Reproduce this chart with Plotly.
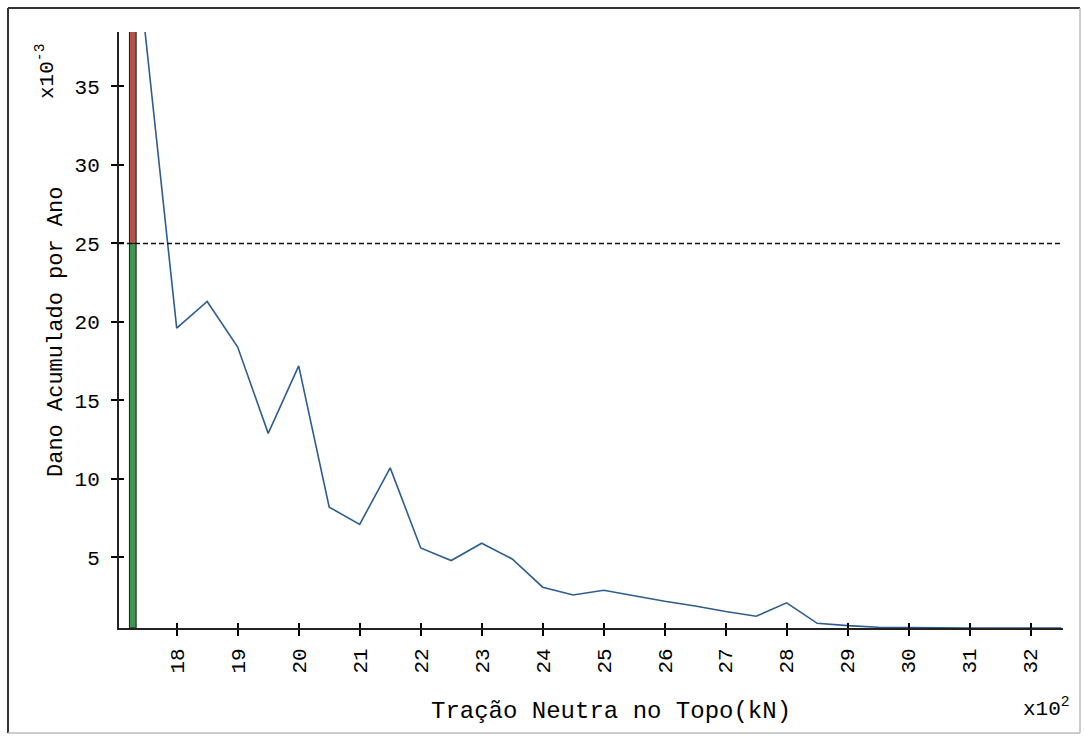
import plotly.graph_objects as go

# Cumulative fatigue damage per year versus top neutral tension
tracao = [17.0, 18.0, 18.5, 19.0, 19.5, 20.0, 20.5, 21.0, 21.5, 22.0, 22.5,
          23.0, 23.5, 24.0, 24.5, 25.0, 25.5, 26.0, 26.5, 27.0, 27.5, 28.0,
          28.5, 29.0, 29.5, 30.0, 30.5, 31.0, 31.5, 32.0, 32.5]
dano = [56.0, 19.6, 21.3, 18.4, 12.9, 17.2, 8.2, 7.1, 10.7, 5.6, 4.8,
        5.9, 4.9, 3.1, 2.6, 2.9, 2.55, 2.2, 1.9, 1.55, 1.25, 2.1,
        0.8, 0.65, 0.55, 0.52, 0.51, 0.5, 0.5, 0.5, 0.5]

limite_dano = 25.0          # allowed damage per year (x10^-3)
tracao_atual = 17.28        # current top tension (x10^2 kN)
dano_atual = 38.5           # damage indicator height

x_ticks = list(range(18, 33))
y_ticks = [5, 10, 15, 20, 25, 30, 35]

X_RANGE = [17.054, 32.53]
Y_RANGE = [0.5, 38.47]

FONT = "Liberation Mono"
INK = "#000000"

fig = go.Figure()

# indicator bar: green up to the limit, red above it
fig.add_trace(go.Bar(
    x=[tracao_atual], y=[limite_dano - Y_RANGE[0]], base=[Y_RANGE[0]],
    width=0.11, marker=dict(color="#3f9650", line=dict(color="#1a1a1a", width=1)),
    showlegend=False, hoverinfo="skip"))
fig.add_trace(go.Bar(
    x=[tracao_atual], y=[dano_atual - limite_dano + 1], base=[limite_dano],
    width=0.11, marker=dict(color="#b0544c", line=dict(color="#1a1a1a", width=1)),
    showlegend=False, hoverinfo="skip"))

# damage curve
fig.add_trace(go.Scatter(
    x=tracao, y=dano, mode="lines",
    line=dict(color="#2d5d8f", width=1.6),
    showlegend=False))

# limit line
fig.add_trace(go.Scatter(
    x=X_RANGE, y=[limite_dano, limite_dano], mode="lines",
    line=dict(color="#111111", width=1.5, dash="5px,3px"),
    showlegend=False, hoverinfo="skip"))

# helper trace on the overlay axes (inner half of the crossing ticks)
fig.add_trace(go.Scatter(x=[X_RANGE[0]], y=[Y_RANGE[0]], xaxis="x2", yaxis="y2",
                         mode="markers", marker=dict(opacity=0),
                         showlegend=False, hoverinfo="skip"))

axis_common = dict(showgrid=False, zeroline=False, color=INK)

fig.update_layout(
    width=1084, height=736,
    margin=dict(l=119, r=21, t=32, b=108),
    paper_bgcolor="white", plot_bgcolor="white",
    barmode="overlay",
    font=dict(family=FONT, color=INK, size=21),
    xaxis=dict(**axis_common, range=X_RANGE, tickvals=x_ticks,
               ticktext=[str(v) for v in x_ticks], tickangle=-90,
               ticks="outside", ticklen=6, tickwidth=2, tickcolor=INK,
               showline=True, linecolor="#222222", linewidth=2,
               tickfont=dict(family=FONT, size=21, color=INK),
               ticklabelstandoff=4),
    yaxis=dict(**axis_common, range=Y_RANGE, tickvals=y_ticks,
               ticktext=[str(v) for v in y_ticks],
               ticks="outside", ticklen=6, tickwidth=2, tickcolor=INK,
               showline=True, linecolor="#222222", linewidth=2,
               tickfont=dict(family=FONT, size=21, color=INK),
               ticklabelstandoff=7),
    xaxis2=dict(**axis_common, overlaying="x", range=X_RANGE, tickvals=x_ticks,
                ticks="inside", ticklen=5, tickwidth=2, tickcolor=INK,
                showticklabels=False, showline=False),
    yaxis2=dict(**axis_common, overlaying="y", range=Y_RANGE, tickvals=y_ticks,
                ticks="inside", ticklen=5, tickwidth=2, tickcolor=INK,
                showticklabels=False, showline=False),
)

PL, PR, PT, PB = 119, 1063, 32, 628


def px(x):
    return (x - PL) / (PR - PL)


def py(y):
    return (PB - y) / (PB - PT)


annotations = [
    dict(text="Dano Acumulado por Ano", x=px(56), y=py(332), textangle=-90,
         font=dict(family=FONT, size=22, color=INK)),
    dict(text="x10<sup>-3</sup>", x=px(45), y=py(72), textangle=-90,
         font=dict(family=FONT, size=21, color=INK)),
    dict(text="Tração Neutra no Topo(kN)", x=px(611), y=py(711),
         font=dict(family=FONT, size=24, color=INK)),
    dict(text="x10<sup>2</sup>", x=px(1046), y=py(707),
         font=dict(family=FONT, size=21, color=INK)),
]
for a in annotations:
    a.update(xref="paper", yref="paper", showarrow=False,
             xanchor="center", yanchor="middle")
fig.update_layout(annotations=annotations)

# outer frame
frame = [
    (8, 8, 8, 733, "#333333", 2),
    (8, 8, 1080, 8, "#333333", 2),
    (1080, 8, 1080, 733, "#bbbbbb", 1.5),
    (8, 733, 1080, 733, "#bbbbbb", 1.5),
]
for x0, y0, x1, y1, c, w in frame:
    fig.add_shape(type="line", xref="paper", yref="paper",
                  x0=px(x0), y0=py(y0), x1=px(x1), y1=py(y1),
                  line=dict(color=c, width=w))

fig.write_html("out.html")
